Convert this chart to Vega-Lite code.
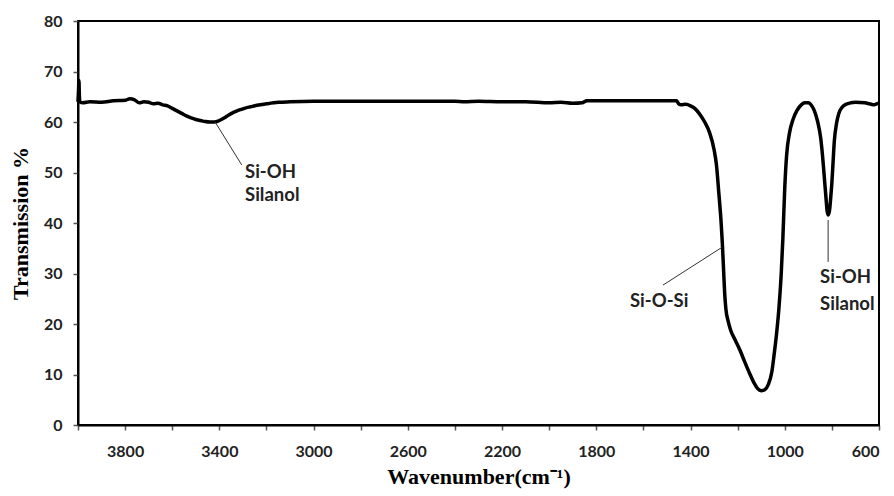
{
  "$schema": "https://vega.github.io/schema/vega-lite/v6.json",
  "width": 801,
  "height": 404,
  "autosize": {"type": "none"},
  "padding": {"left": 78, "top": 21, "right": 15, "bottom": 71},
  "background": "white",
  "config": {
    "view": {"stroke": "black", "strokeWidth": 2},
    "axis": {
      "domainColor": "black",
      "domainWidth": 2,
      "tickColor": "#555555",
      "tickWidth": 1.5,
      "tickSize": 5,
      "grid": false,
      "labelFont": "Lato",
      "labelFontWeight": "bold",
      "labelFontSize": 16,
      "labelColor": "#222222",
      "titleFont": "Liberation Serif",
      "titleFontWeight": "bold",
      "titleFontSize": 22,
      "titleColor": "black"
    }
  },
  "datasets": {
    "spectrum": [
      {"wn": 4000, "t": 64.0}, {"wn": 3998, "t": 66.0}, {"wn": 3996, "t": 68.2}, {"wn": 3994, "t": 65.0},
      {"wn": 3992, "t": 64.0}, {"wn": 3980, "t": 63.8}, {"wn": 3950, "t": 64.0}, {"wn": 3900, "t": 63.9},
      {"wn": 3850, "t": 64.2}, {"wn": 3800, "t": 64.3}, {"wn": 3780, "t": 64.6}, {"wn": 3760, "t": 64.4},
      {"wn": 3740, "t": 63.8}, {"wn": 3720, "t": 64.0}, {"wn": 3700, "t": 63.9}, {"wn": 3680, "t": 63.6},
      {"wn": 3660, "t": 63.7}, {"wn": 3640, "t": 63.4}, {"wn": 3620, "t": 63.2}, {"wn": 3600, "t": 62.7},
      {"wn": 3580, "t": 62.2}, {"wn": 3560, "t": 61.7}, {"wn": 3540, "t": 61.2}, {"wn": 3520, "t": 60.8},
      {"wn": 3500, "t": 60.5}, {"wn": 3480, "t": 60.3}, {"wn": 3460, "t": 60.1}, {"wn": 3440, "t": 60.0},
      {"wn": 3420, "t": 60.0}, {"wn": 3400, "t": 60.3}, {"wn": 3380, "t": 60.8}, {"wn": 3360, "t": 61.4},
      {"wn": 3340, "t": 61.9}, {"wn": 3320, "t": 62.3}, {"wn": 3300, "t": 62.6}, {"wn": 3280, "t": 62.9},
      {"wn": 3260, "t": 63.1}, {"wn": 3240, "t": 63.3}, {"wn": 3200, "t": 63.6}, {"wn": 3150, "t": 63.9},
      {"wn": 3100, "t": 64.0}, {"wn": 3000, "t": 64.1}, {"wn": 2800, "t": 64.1}, {"wn": 2600, "t": 64.1},
      {"wn": 2400, "t": 64.1}, {"wn": 2360, "t": 64.0}, {"wn": 2300, "t": 64.1}, {"wn": 2200, "t": 64.0},
      {"wn": 2100, "t": 64.0}, {"wn": 2000, "t": 63.8}, {"wn": 1950, "t": 63.9}, {"wn": 1900, "t": 63.7},
      {"wn": 1860, "t": 63.8}, {"wn": 1840, "t": 64.2}, {"wn": 1800, "t": 64.2}, {"wn": 1700, "t": 64.2},
      {"wn": 1600, "t": 64.2}, {"wn": 1500, "t": 64.2}, {"wn": 1460, "t": 64.2}, {"wn": 1450, "t": 63.6},
      {"wn": 1440, "t": 63.4}, {"wn": 1420, "t": 63.5}, {"wn": 1400, "t": 63.2}, {"wn": 1380, "t": 62.6},
      {"wn": 1360, "t": 61.5}, {"wn": 1340, "t": 60.0}, {"wn": 1320, "t": 58.0}, {"wn": 1300, "t": 54.5},
      {"wn": 1290, "t": 51.5}, {"wn": 1280, "t": 46.0}, {"wn": 1270, "t": 40.0}, {"wn": 1265, "t": 36.0},
      {"wn": 1260, "t": 31.0}, {"wn": 1255, "t": 26.0}, {"wn": 1250, "t": 23.0}, {"wn": 1240, "t": 20.5},
      {"wn": 1230, "t": 18.8}, {"wn": 1210, "t": 16.8}, {"wn": 1190, "t": 14.8}, {"wn": 1170, "t": 12.5},
      {"wn": 1150, "t": 10.3}, {"wn": 1130, "t": 8.3}, {"wn": 1115, "t": 7.2}, {"wn": 1100, "t": 6.8},
      {"wn": 1085, "t": 7.0}, {"wn": 1070, "t": 8.0}, {"wn": 1055, "t": 10.5}, {"wn": 1045, "t": 14.0},
      {"wn": 1035, "t": 18.0}, {"wn": 1025, "t": 23.0}, {"wn": 1015, "t": 30.0}, {"wn": 1008, "t": 37.0},
      {"wn": 1000, "t": 47.0}, {"wn": 992, "t": 53.5}, {"wn": 980, "t": 57.8}, {"wn": 965, "t": 60.5},
      {"wn": 948, "t": 62.3}, {"wn": 930, "t": 63.4}, {"wn": 915, "t": 63.8}, {"wn": 900, "t": 63.8},
      {"wn": 890, "t": 63.5}, {"wn": 875, "t": 62.3}, {"wn": 860, "t": 60.0}, {"wn": 848, "t": 57.0},
      {"wn": 840, "t": 53.5}, {"wn": 832, "t": 49.0}, {"wn": 825, "t": 45.0}, {"wn": 820, "t": 42.3},
      {"wn": 815, "t": 41.6}, {"wn": 810, "t": 42.5}, {"wn": 805, "t": 45.0}, {"wn": 800, "t": 48.0},
      {"wn": 795, "t": 52.0}, {"wn": 790, "t": 56.0}, {"wn": 780, "t": 59.8}, {"wn": 770, "t": 61.8},
      {"wn": 755, "t": 63.0}, {"wn": 740, "t": 63.5}, {"wn": 720, "t": 63.8}, {"wn": 700, "t": 63.9},
      {"wn": 660, "t": 63.8}, {"wn": 640, "t": 63.6}, {"wn": 620, "t": 63.4}, {"wn": 610, "t": 63.6},
      {"wn": 600, "t": 63.7}
    ],
    "leaders": [
      {"x1": 3418, "y1": 60.0, "x2": 3305, "y2": 51.5},
      {"x1": 1266, "y1": 35.2, "x2": 1517, "y2": 27.7},
      {"x1": 816, "y1": 40.6, "x2": 816, "y2": 32.3}
    ],
    "labels": [
      {"x": 3291, "y": 48.9, "label": "Si-OH"},
      {"x": 3291, "y": 44.4, "label": "Silanol"},
      {"x": 1657, "y": 23.4, "label": "Si-O-Si"},
      {"x": 850, "y": 28.1, "label": "Si-OH"},
      {"x": 850, "y": 22.8, "label": "Silanol"}
    ]
  },
  "layer": [
    {
      "data": {"name": "spectrum"},
      "mark": {"type": "line", "color": "black", "strokeWidth": 3.5, "interpolate": "monotone"},
      "encoding": {
        "x": {
          "field": "wn", "type": "quantitative",
          "scale": {"domain": [600, 4000], "reverse": true, "nice": false, "zero": false},
          "axis": {
            "title": "Wavenumber(cm⁻¹)",
            "values": [4000, 3800, 3600, 3400, 3200, 3000, 2800, 2600, 2400, 2200, 2000, 1800, 1600, 1400, 1200, 1000, 800, 600],
            "format": "d",
            "labelExpr": "datum.value % 400 == 200 ? datum.label : ''",
            "labelPadding": 13,
            "titlePadding": 7
          }
        },
        "y": {
          "field": "t", "type": "quantitative",
          "scale": {"domain": [0, 80], "nice": false},
          "axis": {
            "title": "Transmission %",
            "values": [0, 10, 20, 30, 40, 50, 60, 70, 80],
            "labelPadding": 11,
            "titlePadding": 11
          }
        }
      }
    },
    {
      "data": {"name": "leaders"},
      "mark": {"type": "rule", "color": "#333333", "strokeWidth": 1},
      "encoding": {
        "x": {"field": "x1", "type": "quantitative"},
        "y": {"field": "y1", "type": "quantitative"},
        "x2": {"field": "x2"},
        "y2": {"field": "y2"}
      }
    },
    {
      "data": {"name": "labels"},
      "mark": {"type": "text", "align": "left", "baseline": "alphabetic", "font": "Lato", "fontWeight": "bold", "fontSize": 18.5, "color": "#222222"},
      "encoding": {
        "x": {"field": "x", "type": "quantitative"},
        "y": {"field": "y", "type": "quantitative"},
        "text": {"field": "label"}
      }
    }
  ]
}
